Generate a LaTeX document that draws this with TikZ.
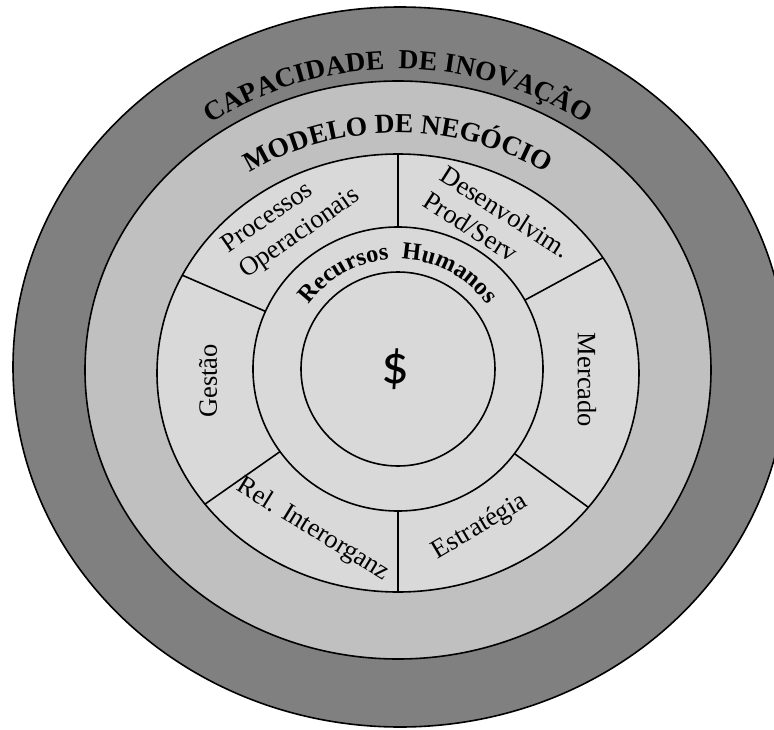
\documentclass[tikz,border=0pt]{standalone}
\usepackage{fontspec}
\setmainfont{Liberation Serif}
\newfontfamily\dollarfont{Carlito}
\usetikzlibrary{decorations.text}
\definecolor{ringdark}{HTML}{808080}
\definecolor{ringmid}{HTML}{C0C0C0}
\definecolor{ringlight}{HTML}{D9D9D9}
\newcommand\ringtitlefont{\bfseries\fontsize{27.5}{30}\selectfont}
\newcommand\rhfont{\bfseries\fontsize{24.5}{27}\selectfont}

\begin{document}
\begin{tikzpicture}[x=1pt, y=1pt, line width=1.6pt,
  every node/.style={font=\fontsize{26.5}{31}\selectfont},
  ringtitle/.style={decorate, decoration={text along path, text align=center, text={#1}}}]
	\useasboundingbox (-398,-360) rectangle (376,369);
	\filldraw[fill=ringdark] (2,2) ellipse [x radius=387, y radius=360];
	\filldraw[fill=ringmid] (0,-1) ellipse [x radius=313, y radius=289];
	\fill[ringlight] (0,-4) ellipse [x radius=241, y radius=219];
	\begin{scope}
		\clip (0,-4) ellipse [x radius=241, y radius=219];
		\foreach \a in {28.5, 90, 156.5, 215, 270, 324} {\draw (0,0) -- (\a:260);}
	\end{scope}
	\draw (0,-4) ellipse [x radius=241, y radius=219];
	\filldraw[fill=ringlight] (0,0) ellipse [x radius=145, y radius=142];
	\filldraw[fill=ringlight] (0,0) circle [radius=97];
	\path[ringtitle={|\ringtitlefont|CAPACIDADE{\ }{\ }DE INOVAÇÃO}] (165:325 and 300) arc[start angle=165, end angle=15, x radius=325, y radius=300];
	\path[ringtitle={|\ringtitlefont|MODELO DE NEGÓCIO}] (160:265 and 236) arc[start angle=160, end angle=20, x radius=265, y radius=236];
	\path[ringtitle={|\rhfont|Recursos{\ }{\ }Humanos}] (170:110) arc[start angle=170, end angle=10, radius=110];
	\node[rotate=34.7, align=left] (proc) at (-106.5,147.7) {Processos\\Operacionais};
	\node[rotate=-32.5, align=left] (desen) at (99,144) {Desenvolvim.\\Prod/Serv};
	\node[rotate=90] (gestao) at (-190,-12) {Gestão};
	\node[rotate=-90] (mercado) at (189,-11) {Mercado};
	\node[rotate=-31.5] (rel) at (-85,-161) {Rel. Interorganz};
	\node[rotate=30.5] (estrat) at (82,-158) {Estratégia};
	\node[font=\dollarfont\fontsize{55}{55}\selectfont] (dollar) at (-3,0) {\$};
\end{tikzpicture}
\end{document}
